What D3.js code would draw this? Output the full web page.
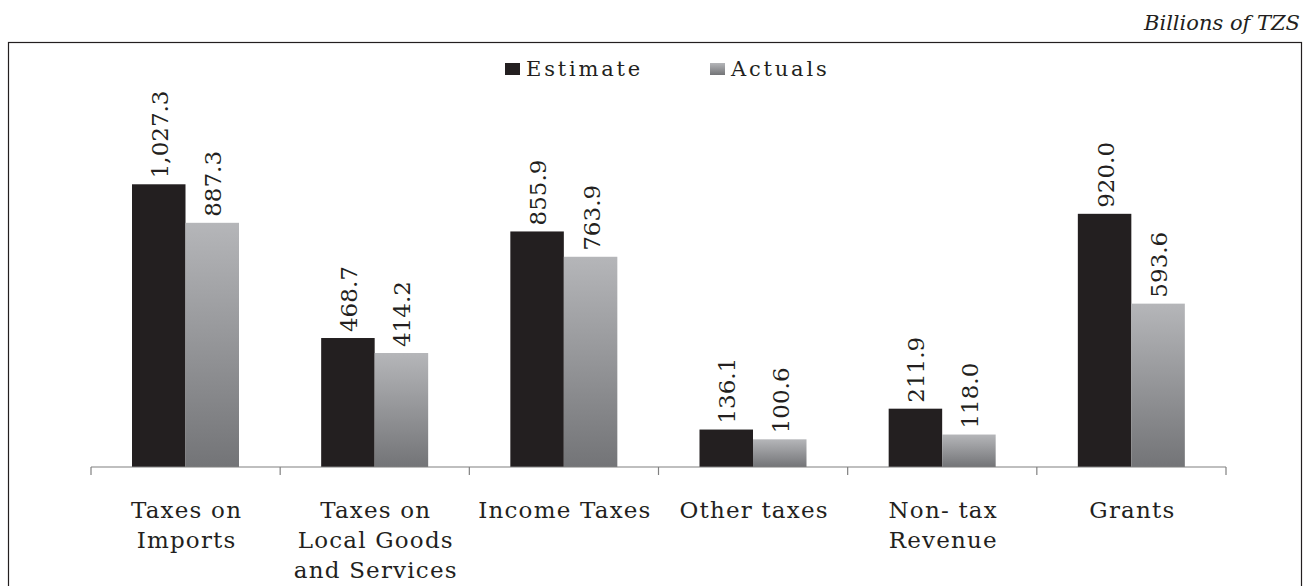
<!DOCTYPE html>
<html>
<head>
<meta charset="utf-8">
<script src="https://cdn.jsdelivr.net/npm/d3@7"></script>
<style>
  body { margin: 0; background: #fff; }
</style>
</head>
<body>
<div id="chart"></div>
<script>
// data
const categories = [
  ["Taxes on", "Imports"],
  ["Taxes on", "Local Goods", "and Services"],
  ["Income Taxes"],
  ["Other taxes"],
  ["Non- tax", "Revenue"],
  ["Grants"]
];
const seriesNames = ["Estimate", "Actuals"];
const estimate = [1027.3, 468.7, 855.9, 136.1, 211.9, 920.0];
const actuals = [887.3, 414.2, 763.9, 100.6, 118.0, 593.6];

const W = 1314, H = 586;
const FONT = "'DejaVu Serif', serif";
const svg = d3.select("#chart").append("svg").attr("width", W).attr("height", H)
    .attr("font-family", FONT).attr("fill", "#231f20");

// gradient for the Actuals bars
const grad = svg.append("defs").append("linearGradient")
    .attr("id", "actGrad").attr("x1", 0).attr("y1", 0).attr("x2", 0).attr("y2", 1);
grad.append("stop").attr("offset", "0%").attr("stop-color", "#b5b6b9");
grad.append("stop").attr("offset", "100%").attr("stop-color", "#737477");

// outer frame
svg.append("rect").attr("x", 8.5).attr("y", 42.5).attr("width", 1293).attr("height", 560)
    .attr("fill", "none").attr("stroke", "#231f20").attr("stroke-width", 1.2);

svg.append("text").attr("x", 1300).attr("y", 30).attr("text-anchor", "end")
    .attr("font-style", "italic").attr("font-size", 21)
    .text("Billions of TZS");

const x0 = d3.scaleBand().domain(d3.range(categories.length)).range([91, 1226]);
const x1 = d3.scaleBand().domain(seriesNames).range([41, 41 + 107]);
const y = d3.scaleLinear().domain([0, 1200]).range([467, 467 - 1200 * 0.2752]);

const rows = categories.map((c, i) => [
  { s: "Estimate", v: estimate[i] },
  { s: "Actuals", v: actuals[i] }
]);

const g = svg.selectAll("g.cat").data(rows).enter().append("g")
    .attr("transform", (d, i) => `translate(${x0(i)},0)`);

g.selectAll("rect").data(d => d).enter().append("rect")
    .attr("x", d => x1(d.s))
    .attr("y", d => y(d.v))
    .attr("width", x1.bandwidth())
    .attr("height", d => y(0) - y(d.v))
    .attr("fill", d => d.s === "Estimate" ? "#231f20" : "url(#actGrad)");

g.selectAll("text.val").data(d => d).enter().append("text")
    .attr("class", "val")
    .attr("transform", d => `translate(${x1(d.s) + x1.bandwidth() / 2 + 9},${y(d.v) - 6}) rotate(-90)`)
    .attr("font-size", 23)
    .text(d => d3.format(",.1f")(d.v));

// category axis
const axis = svg.append("g").attr("transform", "translate(0,467)");
axis.append("line").attr("x1", 91).attr("x2", 1226).attr("stroke", "#808080").attr("stroke-width", 1.2);
axis.selectAll("line.tick").data(d3.range(categories.length + 1)).enter().append("line")
    .attr("x1", i => 91 + i * x0.step()).attr("x2", i => 91 + i * x0.step())
    .attr("y1", 0).attr("y2", 8).attr("stroke", "#808080").attr("stroke-width", 1.2);

const lab = svg.selectAll("text.cat").data(categories).enter().append("text")
    .attr("class", "cat")
    .attr("text-anchor", "middle")
    .attr("font-size", 23)
    .attr("letter-spacing", 1.2)
    .attr("x", (d, i) => x0(i) + x0.bandwidth() / 2 + 1)
    .attr("y", 518);
lab.selectAll("tspan").data(d => d).enter().append("tspan")
    .attr("x", function () { return d3.select(this.parentNode).attr("x"); })
    .attr("dy", (d, i) => i === 0 ? 0 : 30)
    .text(d => d);

// legend
const legX = [505, 710];
const leg = svg.selectAll("g.leg").data(seriesNames).enter().append("g")
    .attr("transform", (d, i) => `translate(${legX[i]},63)`);
leg.append("rect").attr("width", 15).attr("height", 12)
    .attr("fill", d => d === "Estimate" ? "#231f20" : "url(#actGrad)");
leg.append("text").attr("x", 21).attr("y", 13)
    .attr("font-size", 21)
    .attr("letter-spacing", 2.8).text(d => d);
</script>
</body>
</html>
